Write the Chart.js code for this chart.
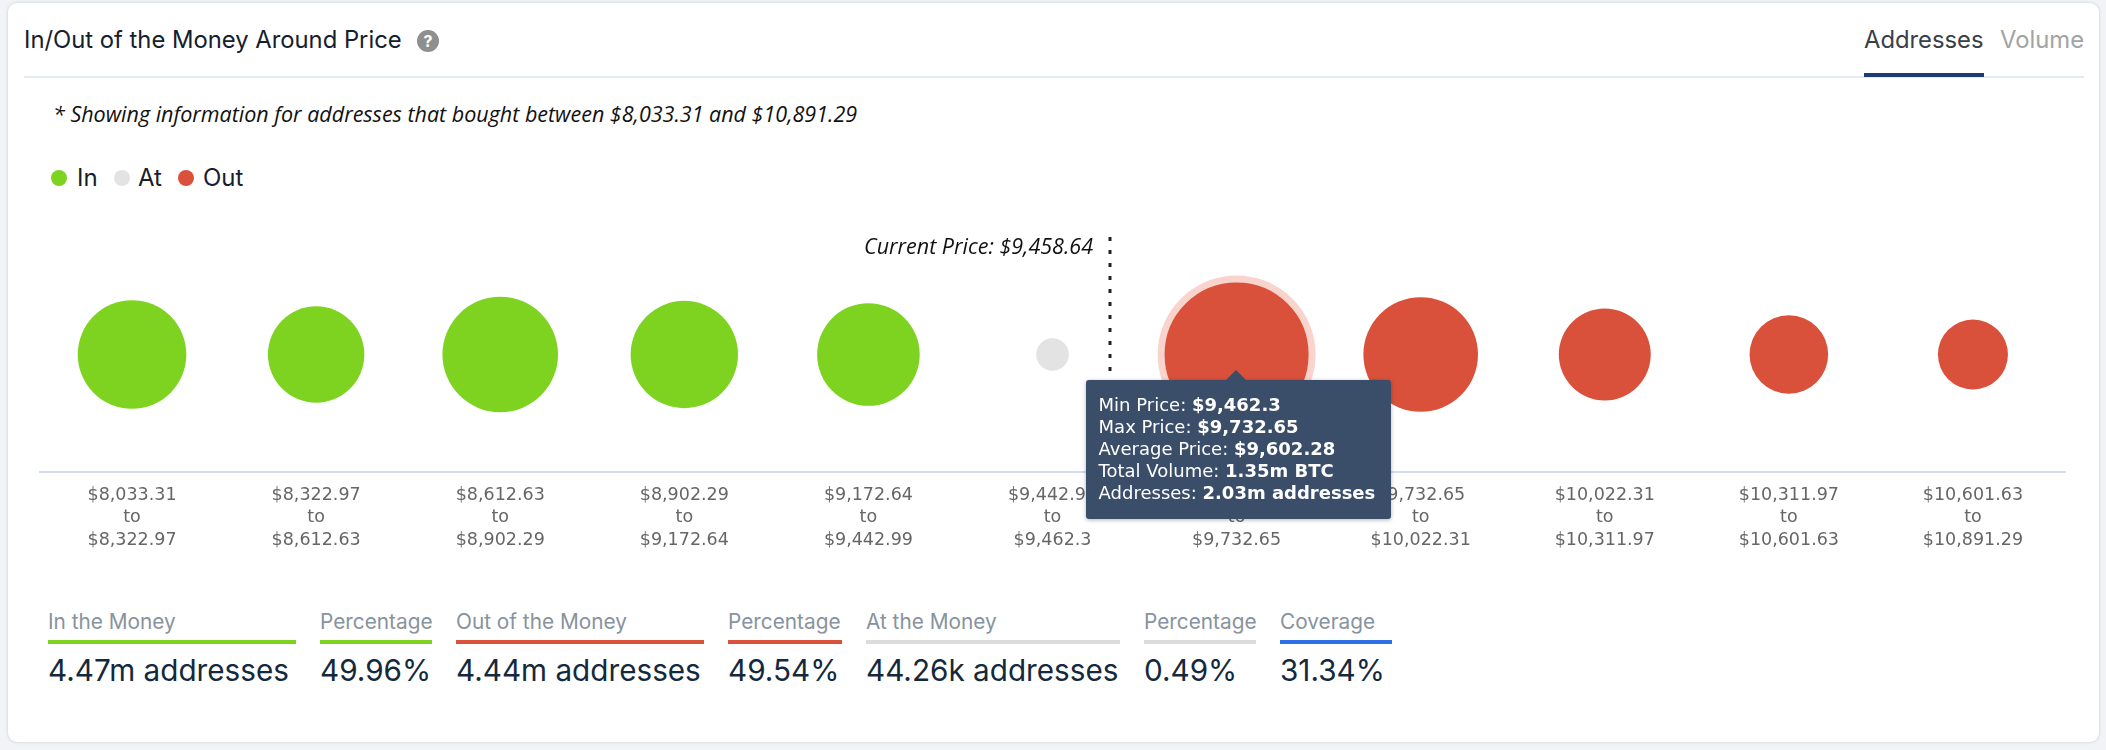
<!DOCTYPE html>
<html>
<head>
<meta charset="utf-8">
<title>In/Out of the Money Around Price</title>
<script src="https://cdn.jsdelivr.net/npm/chart.js@4"></script>
<style>
  html, body { margin: 0; padding: 0; width: 2106px; height: 750px; overflow: hidden; background: #f1f3f6; }
  body { position: relative; font-family: Inter, sans-serif; }
  #card { position: absolute; left: 8px; top: 3px; width: 2091px; height: 739px; background: #fff; border-radius: 9px; box-shadow: 0 0 3px rgba(60, 70, 90, .25); }
  #chart { position: absolute; left: 0; top: 0; width: 2106px; height: 750px; }
  .abs { position: absolute; white-space: nowrap; line-height: 1; }
  #title { left: 24px; top: 28px; font-size: 23.8px; color: #16202c; }
  #help { left: 417px; top: 30px; width: 22px; height: 22px; border-radius: 50%; background: #8f8f8f; color: #fff; font: bold 16px/22px Inter, sans-serif; text-align: center; }
  #headLine { left: 24px; top: 76px; width: 2060px; height: 2px; background: #e6eaf1; }
  #tabA { left: 1864px; top: 28px; font-size: 23.8px; color: #3a3f47; }
  #tabV { left: 2000px; top: 28px; font-size: 23.8px; color: #a3a3a3; }
  #tabLine { left: 1864px; top: 73px; width: 120px; height: 4px; background: #1f3a70; }
  #note { left: 53px; top: 99px; font: italic 21.5px "Open Sans", sans-serif; color: #111; }
  .dot { position: absolute; top: 170px; width: 16px; height: 16px; border-radius: 50%; }
  .leg { top: 166px; font-size: 24px; color: #16202c; }
  .statLabel { top: 612px; font-size: 20.8px; color: #87939d; }
  .statBar { top: 640px; height: 4px; }
  .statValue { top: 656px; font-size: 29.7px; color: #14293d; }
  #tip { position: absolute; width: 305px; height: 139px; background: #3a4d69; border-radius: 3px; box-shadow: 0 1px 4px rgba(0, 0, 0, .3); color: #fff; font: 18px/22px "DejaVu Sans", sans-serif; box-sizing: border-box; padding: 14px 0 0 13px; white-space: nowrap; }
  #tip:before { content: ""; position: absolute; left: 140px; top: -10px; border-left: 10px solid transparent; border-right: 10px solid transparent; border-bottom: 10px solid #3a4d69; }
</style>
</head>
<body>
<div id="card"></div>
<div class="abs" id="title">In/Out of the Money Around Price</div>
<div class="abs" id="help">?</div>
<div class="abs" id="tabA">Addresses</div>
<div class="abs" id="tabV">Volume</div>
<div class="abs" id="headLine"></div>
<div class="abs" id="tabLine"></div>
<div class="abs" id="note">* Showing information for addresses that bought between $8,033.31 and $10,891.29</div>
<span class="dot" style="left:51px;background:#7ed321"></span><div class="abs leg" style="left:77px">In</div>
<span class="dot" style="left:114px;background:#e3e3e3"></span><div class="abs leg" style="left:138px">At</div>
<span class="dot" style="left:178px;background:#d9513a"></span><div class="abs leg" style="left:203px">Out</div>
<div id="stats"></div>
<canvas id="chart" width="2106" height="750"></canvas>
<div id="tip" style="display:none"></div>

<script>
// price bands
var priceFrom = [8033.31, 8322.97, 8612.63, 8902.29, 9172.64, 9442.99, 9462.3, 9732.65, 10022.31, 10311.97, 10601.63];
var priceTo = [8322.97, 8612.63, 8902.29, 9172.64, 9442.99, 9462.3, 9732.65, 10022.31, 10311.97, 10601.63, 10891.29];
var priceFromText = ['$8,033.31', '$8,322.97', '$8,612.63', '$8,902.29', '$9,172.64', '$9,442.99', '$9,462.3', '$9,732.65', '$10,022.31', '$10,311.97', '$10,601.63'];
var priceToText = ['$8,322.97', '$8,612.63', '$8,902.29', '$9,172.64', '$9,442.99', '$9,462.3', '$9,732.65', '$10,022.31', '$10,311.97', '$10,601.63', '$10,891.29'];

// addresses per band, in millions
var inAddresses = [0.968, 0.696, 1.146, 0.939, 0.828];
var atAddresses = [0.0443];
var outAddresses = [2.03, 1.12, 0.608, 0.383, 0.268];

var currentPrice = 9458.64;
var currentPriceText = '$9,458.64';

var statLabels = ['In the Money', 'Percentage', 'Out of the Money', 'Percentage', 'At the Money', 'Percentage', 'Coverage'];
var statValues = ['4.47m addresses', '49.96%', '4.44m addresses', '49.54%', '44.26k addresses', '0.49%', '31.34%'];

var tipLabels = ['Min Price', 'Max Price', 'Average Price', 'Total Volume', 'Addresses'];
var tipValues = ['$9,462.3', '$9,732.65', '$9,602.28', '1.35m BTC', '2.03m addresses'];

var GREEN = '#7ed321', GREY = '#e3e3e3', RED = '#d9513a';

// stat blocks under the chart
var statLefts = [48, 320, 456, 728, 866, 1144, 1280];
var statWidths = [248, 112, 248, 114, 254, 112, 112];
var statColors = [GREEN, GREEN, RED, RED, '#dcdcdc', '#dcdcdc', '#2f6fe6'];
var statsHtml = '';
statLabels.forEach(function (label, i) {
  var left = 'left:' + statLefts[i] + 'px;';
  statsHtml += '<div class="abs statLabel" style="' + left + '">' + label + '</div>';
  statsHtml += '<div class="abs statBar" style="' + left + 'width:' + statWidths[i] + 'px;background:' + statColors[i] + '"></div>';
  statsHtml += '<div class="abs statValue" style="' + left + '">' + statValues[i] + '</div>';
});
document.getElementById('stats').innerHTML = statsHtml;

// bubble radius grows with the square root of the address count
var allAddresses = inAddresses.concat(atAddresses, outAddresses);
var minA = Math.min.apply(null, allAddresses);
var maxA = Math.max.apply(null, allAddresses);
function radius(v) {
  return 16.3 + (72 - 16.3) * Math.sqrt((v - minA) / (maxA - minA));
}

function points(values, start) {
  return values.map(function (v, i) {
    return { x: start + i, y: 0.5, r: radius(v) };
  });
}

// dotted marker for the current price, placed inside its band
var currentPricePlugin = {
  id: 'currentPrice',
  afterDatasetsDraw: function (chart) {
    var ctx = chart.ctx;
    var band = 0;
    priceFrom.forEach(function (p, i) {
      if (currentPrice >= p && currentPrice < priceTo[i]) band = i;
    });
    var frac = (currentPrice - priceFrom[band]) / (priceTo[band] - priceFrom[band]);
    var x = Math.round(chart.scales.x.getPixelForValue(band + frac - 0.5));
    ctx.save();
    ctx.strokeStyle = '#222';
    ctx.lineWidth = 3;
    ctx.setLineDash([4, 9]);
    ctx.beginPath();
    ctx.moveTo(x, chart.chartArea.top);
    ctx.lineTo(x, chart.chartArea.bottom);
    ctx.stroke();
    ctx.fillStyle = '#111';
    ctx.font = 'italic 21.5px "Open Sans", sans-serif';
    ctx.textAlign = 'right';
    ctx.textBaseline = 'middle';
    ctx.fillText('Current Price: ' + currentPriceText, x - 17, 248);
    ctx.restore();
  }
};

function drawTip(context) {
  var tip = document.getElementById('tip');
  var model = context.tooltip;
  if (model.opacity === 0) {
    tip.style.display = 'none';
    return;
  }
  var html = tipLabels.map(function (label, i) {
    return label + ': <b>' + tipValues[i] + '</b>';
  }).join('<br>');
  tip.innerHTML = html;
  tip.style.display = 'block';
  tip.style.left = (model.caretX - 151) + 'px';
  tip.style.top = (model.caretY + 25) + 'px';
}

var chart = new Chart(document.getElementById('chart'), {
  type: 'bubble',
  data: {
    datasets: [
      { label: 'In', data: points(inAddresses, 0), backgroundColor: GREEN, borderWidth: 0 },
      { label: 'At', data: points(atAddresses, 5), backgroundColor: GREY, borderWidth: 0 },
      { label: 'Out', data: points(outAddresses, 6), backgroundColor: RED, borderWidth: 0,
        hoverBackgroundColor: RED, hoverBorderColor: '#f8d4cc', hoverBorderWidth: 7, hoverRadius: 3.5 }
    ]
  },
  plugins: [currentPricePlugin],
  options: {
    responsive: false,
    animation: false,
    events: [],
    layout: { autoPadding: false, padding: { left: 40, right: 41, top: 237, bottom: 0 } },
    plugins: {
      legend: { display: false },
      tooltip: { enabled: false, external: drawTip }
    },
    scales: {
      x: {
        min: -0.5,
        max: 10.5,
        afterFit: function (scale) { scale.height = 278; },
        // one tick per price band, in the middle of its slot
        afterBuildTicks: function (scale) {
          scale.ticks = priceFrom.map(function (p, i) { return { value: i }; });
        },
        grid: { display: false, drawTicks: false },
        border: { color: '#d3dbee', width: 2 },
        ticks: {
          color: '#666',
          font: { family: '"DejaVu Sans", sans-serif', size: 17.5, lineHeight: 1.29 },
          padding: 12,
          maxRotation: 0,
          autoSkip: false,
          callback: function (value) {
            return [priceFromText[value], 'to', priceToText[value]];
          }
        }
      },
      y: { display: false, min: 0, max: 1 }
    }
  }
});

// open on the first "Out" band, as in the screenshot
var active = [{ datasetIndex: 2, index: 0 }];
chart.setActiveElements(active);
chart.tooltip.setActiveElements(active, { x: 0, y: 0 });
chart.update();
</script>
</body>
</html>
